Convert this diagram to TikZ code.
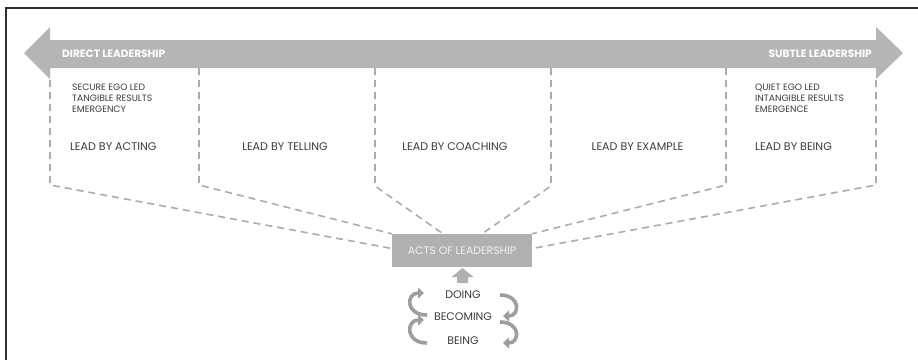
\documentclass[tikz,border=0pt]{standalone}
\usepackage{fontspec}
\setmainfont{Poppins}
\usetikzlibrary{arrows.meta,calc}
\definecolor{band}{RGB}{181,181,181}
\definecolor{boxgray}{RGB}{176,176,176}
\definecolor{dashgray}{RGB}{172,172,172}
\definecolor{cyclegray}{RGB}{158,158,158}
\definecolor{ink}{RGB}{60,60,60}
\definecolor{frameink}{RGB}{45,45,45}
\begin{document}
\begin{tikzpicture}[x=1pt,y=-1pt,
  bandlabel/.style={font=\bfseries\fontsize{10.6}{12}\selectfont, text=white, inner sep=0pt},
  modelabel/.style={font=\fontsize{11.1}{13}\selectfont, text=ink, inner sep=0pt},
  notes/.style={font=\fontsize{9.2}{10.7}\selectfont, text=ink, align=left, inner sep=0pt},
  divider/.style={draw=dashgray, line width=1.6pt, dash pattern=on 7pt off 5pt},
  actbox/.style={fill=boxgray, minimum width=140pt, minimum height=33pt, inner sep=0pt,
    font=\fontsize{10.9}{12}\selectfont, text=white!90!gray},
  cyclelabel/.style={font=\fontsize{11}{13}\selectfont, text=ink, inner sep=0pt},
  cyclearrow/.style={draw=cyclegray, line width=3.6pt, -{Triangle[length=6pt,width=11pt]}}
]
\useasboundingbox (0,0) rectangle (918,360);
\fill[white] (0,0) rectangle (918,360);

% partial frame
\draw[frameink, line width=1.6pt] (6,360) -- (6,8) -- (918,8);

% double-headed band from direct to subtle leadership
\fill[band] (24,53) -- (50,27) -- (50,40) -- (876,40) -- (876,27) -- (903,53)
  -- (876,79) -- (876,68) -- (50,68) -- (50,79) -- cycle;
\node[bandlabel, anchor=west] (direct) at (62,53.5) {DIRECT LEADERSHIP};
\node[bandlabel, anchor=east] (subtle) at (872,53.5) {SUBTLE LEADERSHIP};

% column tops and bottoms
\coordinate (t1) at (50,80);  \coordinate (b1) at (50,185);
\coordinate (t2) at (199,68); \coordinate (b2) at (199,185);
\coordinate (t3) at (375,68); \coordinate (b3) at (375,186);
\coordinate (t4) at (551,68); \coordinate (b4) at (551,186);
\coordinate (t5) at (726,68); \coordinate (b5) at (726,185);
\coordinate (t6) at (876,80); \coordinate (b6) at (876,185);

% central box
\node[actbox] (acts) at (462,250.5) {ACTS OF LEADERSHIP};

% dashed outlines converging on the box
\draw[divider] (t1) -- (b1) -- ($(acts.west)+(0,-2)$);
\draw[divider] (t2) -- (b2) -- (acts.north west);
\draw[divider] (t3) -- (b3) -- ($(acts.north)+(-19,0)$);
\draw[divider] (t4) -- (b4) -- ($(acts.north)+(20,0)$);
\draw[divider] (t5) -- (b5) -- (acts.north east);
\draw[divider] (t6) -- (b6) -- ($(acts.east)+(0,-2)$);

% column contents
\node[notes, anchor=north west] (secure) at (72,84) {SECURE EGO LED\\TANGIBLE RESULTS\\EMERGENCY};
\node[notes, anchor=north west] (quiet) at (755,84) {QUIET EGO LED\\INTANGIBLE RESULTS\\EMERGENCE};
\node[modelabel, anchor=west] (acting) at (70,147) {LEAD BY ACTING};
\node[modelabel] (telling) at (285,147) {LEAD BY TELLING};
\node[modelabel] (coaching) at (455,147) {LEAD BY COACHING};
\node[modelabel] (example) at (637.5,147) {LEAD BY EXAMPLE};
\node[modelabel, anchor=west] (being) at (755,147) {LEAD BY BEING};

% upward block arrow into the box
\fill[boxgray] (457,283) -- (457,277) -- (451.5,277) -- (462.5,268) -- (473.5,277)
  -- (468,277) -- (468,283) -- cycle;

% doing / becoming / being cycle
\node[cyclelabel] (doing) at (463,295) {DOING};
\node[cyclelabel] (becoming) at (463,317) {BECOMING};
\node[cyclelabel] (beingc) at (463,341) {BEING};

\coordinate (lu0) at (427,315); \coordinate (lu1) at (424,293);
\coordinate (ll0) at (427,343); \coordinate (ll1) at (424,320);
\coordinate (ru0) at (500,295); \coordinate (ru1) at (503,316);
\coordinate (rl0) at (500,322); \coordinate (rl1) at (503,343);
\draw[cyclearrow] (lu0) .. controls (405,315) and (406,293) .. (lu1);
\draw[cyclearrow] (ll0) .. controls (405,343) and (406,320) .. (ll1);
\draw[cyclearrow] (ru0) .. controls (521,295) and (520,316) .. (ru1);
\draw[cyclearrow] (rl0) .. controls (521,322) and (520,343) .. (rl1);
\end{tikzpicture}
\end{document}
